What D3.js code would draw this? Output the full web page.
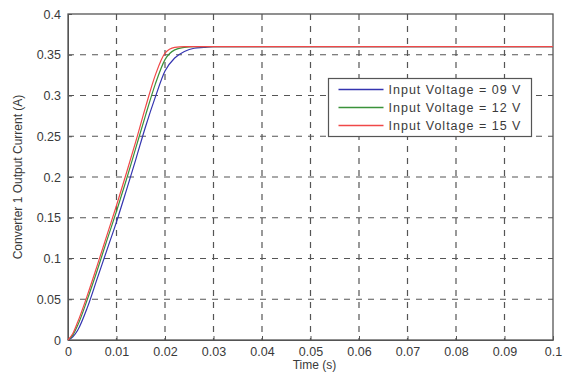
<!DOCTYPE html>
<html>
<head>
<meta charset="utf-8">
<script src="https://cdn.jsdelivr.net/npm/d3@7"></script>
<style>
  body { margin: 0; background: #fff; }
  svg { font-family: "Liberation Sans", Arial, sans-serif; }
</style>
</head>
<body>
<svg width="563" height="373"></svg>
<script>
// time samples (s)
const time = [0, 0.001, 0.002, 0.004, 0.006, 0.008, 0.01, 0.012, 0.014, 0.016, 0.018, 0.02, 0.022, 0.024, 0.026, 0.028, 0.03, 0.1];

// output current (A) per input voltage
const current09 = [0, 0.004, 0.012, 0.040, 0.075, 0.110, 0.145, 0.183, 0.222, 0.262, 0.298, 0.330, 0.346, 0.354, 0.358, 0.359, 0.36, 0.36];
const current12 = [0, 0.006, 0.018, 0.050, 0.085, 0.122, 0.158, 0.196, 0.236, 0.276, 0.314, 0.344, 0.356, 0.359, 0.36, 0.36, 0.36, 0.36];
const current15 = [0, 0.008, 0.022, 0.055, 0.091, 0.128, 0.165, 0.204, 0.244, 0.286, 0.325, 0.352, 0.359, 0.36, 0.36, 0.36, 0.36, 0.36];

const seriesNames = ["Input Voltage = 09 V", "Input Voltage = 12 V", "Input Voltage = 15 V"];
const seriesColors = ["#3434b0", "#3a923a", "#f04848"];

const xTicks = [0, 0.01, 0.02, 0.03, 0.04, 0.05, 0.06, 0.07, 0.08, 0.09, 0.1];
const yTicks = [0, 0.05, 0.1, 0.15, 0.2, 0.25, 0.3, 0.35, 0.4];

const svg = d3.select("svg");
const margin = { top: 14, right: 10, bottom: 33, left: 68 };
const width = 563 - margin.left - margin.right;
const height = 373 - margin.top - margin.bottom;

const chart = svg.append("g")
    .attr("transform", `translate(${margin.left}, ${margin.top})`);

const x = d3.scaleLinear().domain([0, 0.1]).range([0, width]);
const y = d3.scaleLinear().domain([0, 0.4]).range([height, 0]);

// dashed grid
chart.append("g")
    .selectAll("line")
    .data(xTicks.slice(1, -1))
    .join("line")
    .attr("x1", d => x(d)).attr("x2", d => x(d))
    .attr("y1", 0).attr("y2", height)
    .attr("stroke", "#555")
    .attr("stroke-width", 1.2)
    .attr("stroke-dasharray", "6,6");

chart.append("g")
    .selectAll("line")
    .data(yTicks.slice(1, -1))
    .join("line")
    .attr("x1", 0).attr("x2", width)
    .attr("y1", d => y(d)).attr("y2", d => y(d))
    .attr("stroke", "#555")
    .attr("stroke-width", 1.2)
    .attr("stroke-dasharray", "6,6");

// axes
const xAxis = chart.append("g")
    .attr("transform", `translate(0, ${height})`)
    .call(d3.axisBottom(x).tickValues(xTicks).tickFormat(d3.format("")).tickSizeInner(-4).tickSizeOuter(0).tickPadding(7));
const yAxis = chart.append("g")
    .call(d3.axisLeft(y).tickValues(yTicks).tickFormat(d3.format("")).tickSizeInner(-4).tickSizeOuter(0).tickPadding(7));

[xAxis, yAxis].forEach(a => {
    a.selectAll("path, line").attr("stroke", "#555");
    a.selectAll("text").attr("fill", "#3a3a3a").style("font-size", "12.5px");
});

// frame
chart.append("rect")
    .attr("width", width).attr("height", height)
    .attr("fill", "none")
    .attr("stroke", "#555")
    .attr("stroke-width", 1.3);

// curves
const allSeries = [current09, current12, current15];
const line = d3.line()
    .x((d, i) => x(time[i]))
    .y(d => y(d))
    .curve(d3.curveMonotoneX);

chart.selectAll(".curve")
    .data(allSeries)
    .join("path")
    .attr("class", "curve")
    .attr("d", d => line(d))
    .attr("fill", "none")
    .attr("stroke", (d, i) => seriesColors[i])
    .attr("stroke-width", 1.2);

// legend
const legend = chart.append("g").attr("transform", "translate(260.5, 64.5)");
legend.append("rect")
    .attr("width", 203).attr("height", 58)
    .attr("fill", "#fff")
    .attr("stroke", "#555")
    .attr("stroke-width", 1.2);
seriesNames.forEach((name, i) => {
    const row = legend.append("g").attr("transform", `translate(0, ${11 + i * 18})`);
    row.append("line")
        .attr("x1", 10).attr("x2", 55)
        .attr("stroke", seriesColors[i])
        .attr("stroke-width", 1.5);
    row.append("text")
        .attr("x", 60).attr("y", 4.5)
        .attr("fill", "#3a3a3a")
        .style("font-size", "12.5px")
        .style("letter-spacing", "1px")
        .text(name);
});

// axis labels
svg.append("text")
    .attr("x", margin.left + width / 2 + 4)
    .attr("y", 369)
    .attr("text-anchor", "middle")
    .attr("fill", "#3a3a3a")
    .style("font-size", "12px")
    .text("Time (s)");

svg.append("text")
    .attr("transform", `translate(22, 177) rotate(-90)`)
    .attr("text-anchor", "middle")
    .attr("fill", "#3a3a3a")
    .style("font-size", "12px")
    .text("Converter 1 Output Current (A)");
</script>
</body>
</html>
